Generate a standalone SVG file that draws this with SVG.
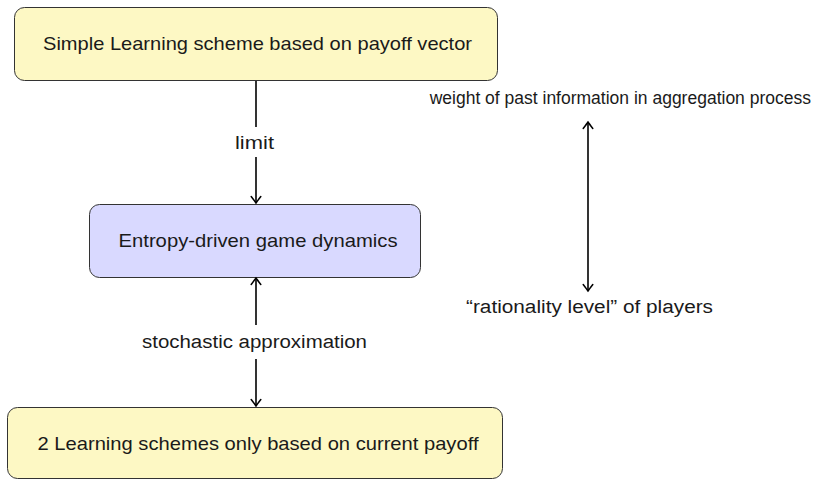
<svg xmlns="http://www.w3.org/2000/svg" width="816" height="480" viewBox="0 0 816 480">
  <style>
    text { font-family: "Liberation Sans", "DejaVu Sans", sans-serif; fill: #1a1a1a; }
    .node-text { font-size: 19px; text-anchor: middle; }
    .label { font-size: 18px; text-anchor: middle; }
    .yellow { fill: #fdf8c4; stroke: #333333; stroke-width: 1; }
    .blue { fill: #d9d9ff; stroke: #333333; stroke-width: 1; }
    .edge { fill: none; stroke: #000000; stroke-width: 1.6; }
  </style>
  <defs>
    <marker id="tip" viewBox="-8 -6 10 12" markerWidth="10" markerHeight="12" refX="0" refY="0" orient="auto-start-reverse" markerUnits="userSpaceOnUse">
      <path d="M -6.5,-4.8 Q -1.5,-1 0,0 Q -1.5,1 -6.5,4.8" fill="none" stroke="#000" stroke-width="1.5" stroke-linecap="round"/>
    </marker>
  </defs>

  <rect width="816" height="480" fill="#ffffff"/>

  <!-- nodes -->
  <g id="node-simple">
    <rect class="yellow" x="14.5" y="7.5" width="483" height="73" rx="10"/>
    <text class="node-text" x="257.5" y="50" textLength="429" lengthAdjust="spacingAndGlyphs">Simple Learning scheme based on payoff vector</text>
  </g>
  <g id="node-entropy">
    <rect class="blue" x="89.5" y="204.5" width="331" height="73" rx="10"/>
    <text class="node-text" x="258" y="247" textLength="279" lengthAdjust="spacingAndGlyphs">Entropy-driven game dynamics</text>
  </g>
  <g id="node-schemes">
    <rect class="yellow" x="7.5" y="407.5" width="495" height="71" rx="10"/>
    <text class="node-text" x="258" y="450" textLength="441" lengthAdjust="spacingAndGlyphs">2 Learning schemes only based on current payoff</text>
  </g>
  <g id="note-weight">
    <text x="811" y="104" style="font-size:17.5px; text-anchor:end">weight of past information in aggregation process</text>
  </g>
  <g id="note-rationality">
    <text class="label" x="589.5" y="313" textLength="247" lengthAdjust="spacingAndGlyphs">“rationality level” of players</text>
  </g>

  <!-- connectors -->
  <g id="connectors">
    <line class="edge" x1="256" y1="81" x2="256" y2="127"/>
    <line class="edge" x1="256" y1="157" x2="256" y2="203" marker-end="url(#tip)"/>
    <text class="label" x="254.5" y="149" textLength="39" lengthAdjust="spacingAndGlyphs">limit</text>

    <line class="edge" x1="256" y1="325" x2="256" y2="278" marker-end="url(#tip)"/>
    <line class="edge" x1="256" y1="359" x2="256" y2="406" marker-end="url(#tip)"/>
    <text class="label" x="254.5" y="348" textLength="225" lengthAdjust="spacingAndGlyphs">stochastic approximation</text>

    <line class="edge" x1="588" y1="122" x2="588" y2="291" marker-start="url(#tip)" marker-end="url(#tip)"/>
  </g>
</svg>
